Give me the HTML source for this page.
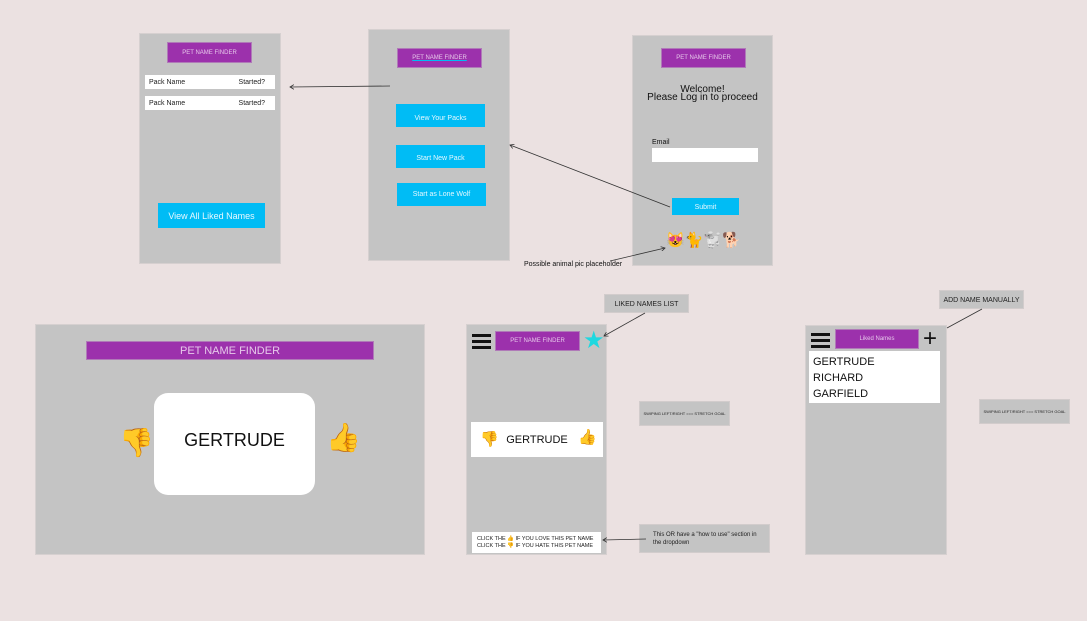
<!DOCTYPE html>
<html><head><meta charset="utf-8"><style>
*{margin:0;padding:0;box-sizing:border-box}
body{width:1087px;height:621px;background:#ebe1e1;position:relative;overflow:hidden;font-family:"Liberation Sans",sans-serif}
.a{position:absolute}
.scr{position:absolute;background:#c4c4c4;border:1px solid #d6d0d0}
.pur{position:absolute;background:#9c31ac;color:#e6c8ea;font-size:6px;display:flex;align-items:center;justify-content:center;border:1px solid #b07ab8}
.cy{position:absolute;background:#00bcf5;color:#e6f8ff;font-size:7px;display:flex;align-items:center;justify-content:center}
.wh{position:absolute;background:#fff}
.note{position:absolute;background:#c4c4c4;border:1px solid #d2cccc;color:#222;display:flex;align-items:center;justify-content:center}
.em{position:absolute;line-height:1}
.ham{position:absolute}
.ham i{display:block;height:3px;background:#111;margin-bottom:3px}
</style></head><body>

<!-- Screen A -->
<div class="scr" style="left:139px;top:33px;width:142px;height:231px"></div>
<div class="pur" style="left:167px;top:42px;width:85px;height:21px">PET NAME FINDER</div>
<div class="wh" style="left:145px;top:75px;width:130px;height:14px;font-size:7px;color:#222;padding:4px 4px">Pack Name<span style="position:absolute;right:10px">Started?</span></div>
<div class="wh" style="left:145px;top:96px;width:130px;height:14px;font-size:7px;color:#222;padding:4px 4px">Pack Name<span style="position:absolute;right:10px">Started?</span></div>
<div class="cy" style="left:158px;top:203px;width:107px;height:25px;font-size:9px">View All Liked Names</div>

<!-- Screen B -->
<div class="scr" style="left:368px;top:29px;width:142px;height:232px"></div>
<div class="pur" style="left:397px;top:48px;width:85px;height:20px;text-decoration:underline;text-decoration-color:#00bcf5">PET NAME FINDER</div>
<div class="cy" style="left:396px;top:104px;width:89px;height:23px;padding-top:6px">View Your Packs</div>
<div class="cy" style="left:396px;top:145px;width:89px;height:23px;padding-top:4px">Start New Pack</div>
<div class="cy" style="left:397px;top:183px;width:89px;height:23px">Start as Lone Wolf</div>

<!-- Screen C -->
<div class="scr" style="left:632px;top:35px;width:141px;height:231px"></div>
<div class="pur" style="left:661px;top:48px;width:85px;height:20px">PET NAME FINDER</div>
<div class="a" style="left:632px;top:86px;width:141px;text-align:center;font-size:10px;line-height:8px;color:#111">Welcome!<br>Please Log in to proceed</div>
<div class="a" style="left:652px;top:139px;font-size:7px;color:#111">Email</div>
<div class="wh" style="left:652px;top:148px;width:106px;height:14px"></div>
<div class="cy" style="left:672px;top:198px;width:67px;height:17px;padding-top:2px">Submit</div>
<div class="a" style="left:666px;top:231px;width:80px;height:20px;font-size:15px;line-height:20px;white-space:nowrap">😻🐈🐩🐕</div>
<div class="a" style="left:524px;top:261px;font-size:7px;color:#111">Possible animal pic placeholder</div>

<!-- Screen D -->
<div class="scr" style="left:35px;top:324px;width:390px;height:231px"></div>
<div class="pur" style="left:86px;top:341px;width:288px;height:19px;font-size:11px">PET NAME FINDER</div>
<div class="wh" style="left:154px;top:393px;width:161px;height:102px;border-radius:14px"></div>
<div class="a" style="left:154px;top:430px;width:161px;text-align:center;font-size:18px;color:#111">GERTRUDE</div>
<div class="em" style="left:119px;top:429px;font-size:28px">👎</div>
<div class="em" style="left:326px;top:424px;font-size:28px">👍</div>

<!-- Screen E -->
<div class="scr" style="left:466px;top:324px;width:141px;height:231px"></div>
<div class="ham" style="left:472px;top:334px;width:19px"><i></i><i></i><i></i></div>
<div class="pur" style="left:495px;top:331px;width:85px;height:20px">PET NAME FINDER</div>
<div class="a" style="left:583px;top:327px;font-size:24px;color:#1ed8e0;line-height:28px">★</div>
<div class="wh" style="left:471px;top:422px;width:132px;height:35px"></div>
<div class="a" style="left:471px;top:434px;width:132px;text-align:center;font-size:11px;color:#111">GERTRUDE</div>
<div class="em" style="left:480px;top:432px;font-size:15px">👎</div>
<div class="em" style="left:578px;top:430px;font-size:15px">👍</div>
<div class="wh" style="left:472px;top:532px;width:129px;height:21px;font-size:5.5px;color:#222;padding:4px 5px;line-height:7px">CLICK THE 👍 IF YOU LOVE THIS PET NAME<br>CLICK THE 👎 IF YOU HATE THIS PET NAME</div>
<div class="note" style="left:604px;top:294px;width:85px;height:19px;font-size:7px;padding-top:2px">LIKED NAMES LIST</div>
<div class="note" style="left:639px;top:401px;width:91px;height:25px;font-size:4px">SWIPING LEFT/RIGHT === STRETCH GOAL</div>
<div class="note" style="left:639px;top:524px;width:131px;height:29px;font-size:6px;justify-content:flex-start;padding-left:13px;line-height:8px">This OR have a "how to use" section in<br>the dropdown</div>

<!-- Screen F -->
<div class="scr" style="left:805px;top:325px;width:142px;height:230px"></div>
<div class="ham" style="left:811px;top:333px;width:19px"><i></i><i></i><i></i></div>
<div class="pur" style="left:835px;top:329px;width:84px;height:20px">Liked Names</div>
<div class="a" style="left:923px;top:324px;font-size:24px;color:#111;line-height:30px">+</div>
<div class="wh" style="left:809px;top:351px;width:131px;height:52px;font-size:11px;color:#111;padding:3px 4px;line-height:16px">GERTRUDE<br>RICHARD<br>GARFIELD</div>
<div class="note" style="left:939px;top:290px;width:85px;height:19px;font-size:7px;padding-top:2px">ADD NAME MANUALLY</div>
<div class="note" style="left:979px;top:399px;width:91px;height:25px;font-size:4px">SWIPING LEFT/RIGHT === STRETCH GOAL</div>

<svg class="a" style="left:0;top:0" width="1087" height="621">
<defs><marker id="m" markerWidth="6" markerHeight="6" refX="5" refY="3" orient="auto"><path d="M0,0 L5,3 L0,6" fill="none" stroke="#333" stroke-width="1"/></marker></defs>
<g stroke="#333" stroke-width="0.8" fill="none">
<line x1="390" y1="86" x2="290" y2="87" marker-end="url(#m)"/>
<line x1="670" y1="207" x2="510" y2="145" marker-end="url(#m)"/>
<line x1="610" y1="261" x2="665" y2="248" marker-end="url(#m)"/>
<line x1="645" y1="313" x2="604" y2="336" marker-end="url(#m)"/>
<line x1="646" y1="539" x2="603" y2="540" marker-end="url(#m)"/>
<line x1="982" y1="309" x2="947" y2="328"/>
</g></svg>
</body></html>
